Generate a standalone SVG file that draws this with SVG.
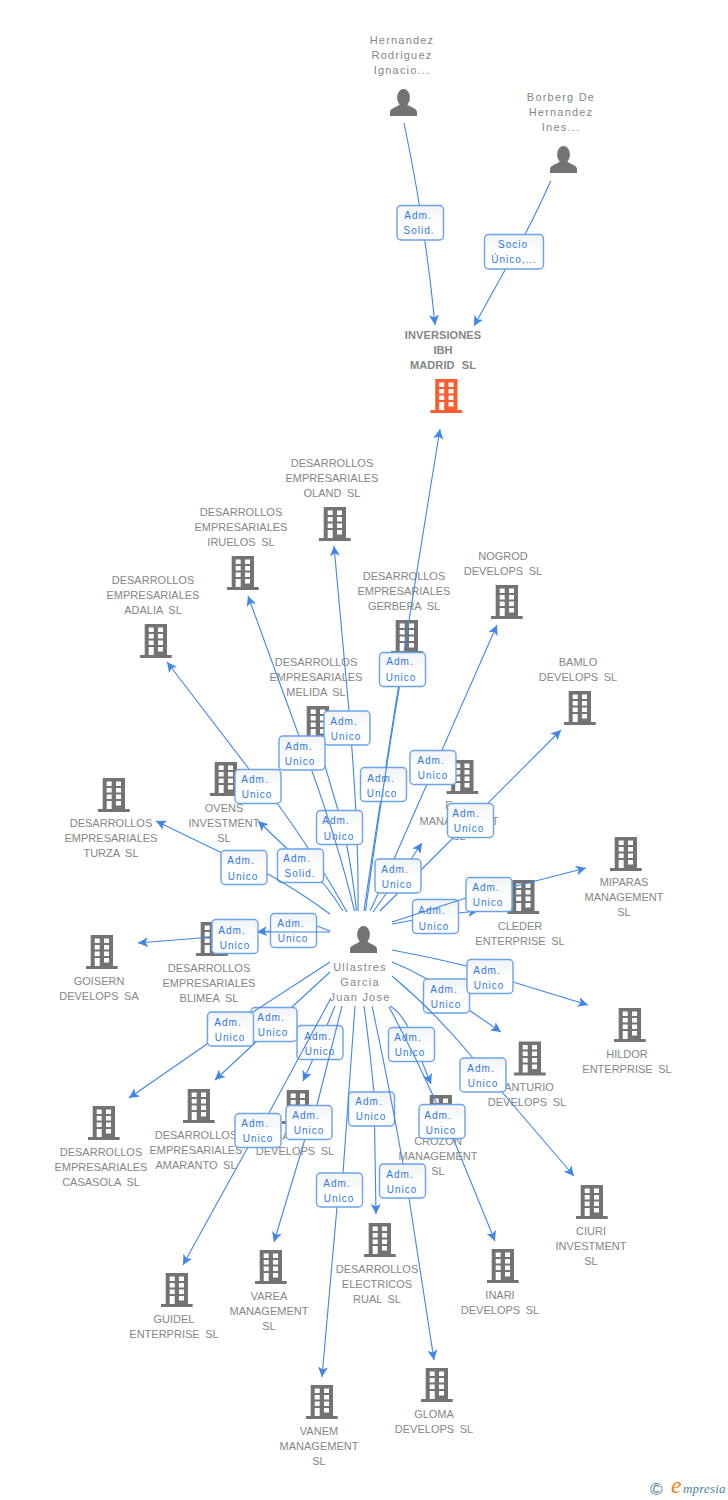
<svg xmlns="http://www.w3.org/2000/svg" width="728" height="1500" viewBox="0 0 728 1500">
<style>
text{font-family:"Liberation Sans",Arial,sans-serif}
.n{font-size:11px;fill:#868686;text-anchor:middle;letter-spacing:0;word-spacing:2.500px}
.m{letter-spacing:1.200px;word-spacing:0}
.b{font-weight:bold;letter-spacing:.1px;word-spacing:4px}
.l{font-size:10px;fill:#2f78e2;text-anchor:middle;letter-spacing:1px}
.e{fill:none;stroke:#3f86e8;stroke-width:1.100;marker-end:url(#a)}
.x{fill:url(#g);stroke:#6ba2ec;stroke-width:1.400}
.i{fill:#737373}
</style>
<defs>
<linearGradient id="g" x1="0" y1="0" x2="0" y2="1"><stop offset="0" stop-color="#f1f3f5"/><stop offset=".6" stop-color="#fff"/></linearGradient>
<marker id="a" markerUnits="userSpaceOnUse" markerWidth="12" markerHeight="12" refX="10" refY="5.500" orient="auto"><path d="M10 5.500L0 0.500L2.500 5.500L0 10.500Z" fill="#3f86e8"/></marker>
<path id="c" fill-rule="evenodd" d="M4.700 0H27V31H31.700V34H0V31H4.700ZM8.700 3.500V8H13.700V3.500ZM18 3.500V8H23V3.500ZM8.700 10V14.500H13.700V10ZM18 10V14.500H23V10ZM8.700 16.500V21H13.700V16.500ZM18 16.500V21H23V16.500ZM8.700 23V31H13.700V23ZM18 23V27.500H23V23Z"/>
<g id="p"><ellipse cx="13.500" cy="8.500" rx="6.400" ry="8.500"/><path d="M0 27V23C0 19 7 18.500 10 15H17C20 18.500 27 19 27 23V27Z"/></g>
</defs>
<rect width="728" height="1500" fill="#fff"/>

<g id="n-hernandez" class="i"><text class="n m" x="402" y="44">Hernandez</text><text class="n m" x="402" y="59">Rodriguez</text><text class="n m" x="402" y="74">Ignacio...</text><use href="#p" x="390" y="89"/></g>
<g id="n-borberg" class="i"><text class="n m" x="561" y="101">Borberg De</text><text class="n m" x="561" y="116">Hernandez</text><text class="n m" x="561" y="131">Ines...</text><use href="#p" x="550" y="146"/></g>
<g id="n-inversiones"><text class="n b" x="443" y="339">INVERSIONES</text><text class="n b" x="443" y="354">IBH</text><text class="n b" x="443" y="369">MADRID SL</text><use href="#c" x="430.500" y="379" fill="#fb5d32"/></g>
<g id="n-oland" class="i"><text class="n" x="332" y="467">DESARROLLOS</text><text class="n" x="332" y="482">EMPRESARIALES</text><text class="n" x="332" y="497">OLAND SL</text><use href="#c" x="319" y="507"/></g>
<g id="n-iruelos" class="i"><text class="n" x="241" y="516">DESARROLLOS</text><text class="n" x="241" y="531">EMPRESARIALES</text><text class="n" x="241" y="546">IRUELOS SL</text><use href="#c" x="227" y="556"/></g>
<g id="n-adalia" class="i"><text class="n" x="153" y="584">DESARROLLOS</text><text class="n" x="153" y="599">EMPRESARIALES</text><text class="n" x="153" y="614">ADALIA SL</text><use href="#c" x="140" y="624"/></g>
<g id="n-gerbera" class="i"><text class="n" x="404" y="580">DESARROLLOS</text><text class="n" x="404" y="595">EMPRESARIALES</text><text class="n" x="404" y="610">GERBERA SL</text><use href="#c" x="391" y="620"/></g>
<g id="n-nogrod" class="i"><text class="n" x="503" y="560">NOGROD</text><text class="n" x="503" y="575">DEVELOPS SL</text><use href="#c" x="491" y="585"/></g>
<g id="n-bamlo" class="i"><text class="n" x="578" y="666">BAMLO</text><text class="n" x="578" y="681">DEVELOPS SL</text><use href="#c" x="564" y="691"/></g>
<g id="n-melida" class="i"><text class="n" x="316" y="666">DESARROLLOS</text><text class="n" x="316" y="681">EMPRESARIALES</text><text class="n" x="316" y="696">MELIDA SL</text><use href="#c" x="302" y="706"/></g>
<g id="n-ovens" class="i"><text class="n" x="224" y="812">OVENS</text><text class="n" x="224" y="827">INVESTMENT</text><text class="n" x="224" y="842">SL</text><use href="#c" x="210" y="762"/></g>
<g id="n-turza" class="i"><text class="n" x="111" y="827">DESARROLLOS</text><text class="n" x="111" y="842">EMPRESARIALES</text><text class="n" x="111" y="857">TURZA SL</text><use href="#c" x="98" y="778"/></g>
<g id="n-management" class="i"><text class="n" x="449" y="809">E</text><text class="n" x="459" y="825">MANAGEMENT</text><text class="n" x="459" y="840">SL</text><use href="#c" x="446.500" y="760"/></g>
<g id="n-cleder" class="i"><text class="n" x="520" y="930">CLEDER</text><text class="n" x="520" y="945">ENTERPRISE SL</text><use href="#c" x="507.500" y="880"/></g>
<g id="n-miparas" class="i"><text class="n" x="624" y="886">MIPARAS</text><text class="n" x="624" y="901">MANAGEMENT</text><text class="n" x="624" y="916">SL</text><use href="#c" x="610" y="837"/></g>
<g id="n-hildor" class="i"><text class="n" x="627" y="1058">HILDOR</text><text class="n" x="627" y="1073">ENTERPRISE SL</text><use href="#c" x="614" y="1008"/></g>
<g id="n-anturio" class="i"><text class="n" x="529" y="1091">ANTURIO</text><text class="n" x="527" y="1106">DEVELOPS SL</text><use href="#c" x="514" y="1041.500"/></g>
<g id="n-ciuri" class="i"><text class="n" x="591" y="1235">CIURI</text><text class="n" x="591" y="1250">INVESTMENT</text><text class="n" x="591" y="1265">SL</text><use href="#c" x="576" y="1185"/></g>
<g id="n-inari" class="i"><text class="n" x="500" y="1299">INARI</text><text class="n" x="500" y="1314">DEVELOPS SL</text><use href="#c" x="487" y="1249"/></g>
<g id="n-crozon" class="i"><text class="n" x="438" y="1145">CROZON</text><text class="n" x="438" y="1160">MANAGEMENT</text><text class="n" x="438" y="1175">SL</text><use href="#c" x="425" y="1095"/></g>
<g id="n-gloma" class="i"><text class="n" x="434" y="1418">GLOMA</text><text class="n" x="434" y="1433">DEVELOPS SL</text><use href="#c" x="421" y="1368"/></g>
<g id="n-rual" class="i"><text class="n" x="377" y="1273">DESARROLLOS</text><text class="n" x="377" y="1288">ELECTRICOS</text><text class="n" x="377" y="1303">RUAL SL</text><use href="#c" x="364" y="1223"/></g>
<g id="n-vanem" class="i"><text class="n" x="319" y="1435">VANEM</text><text class="n" x="319" y="1450">MANAGEMENT</text><text class="n" x="319" y="1465">SL</text><use href="#c" x="306" y="1385"/></g>
<g id="n-varea" class="i"><text class="n" x="269" y="1300">VAREA</text><text class="n" x="269" y="1315">MANAGEMENT</text><text class="n" x="269" y="1330">SL</text><use href="#c" x="255" y="1250"/></g>
<g id="n-guidel" class="i"><text class="n" x="174" y="1323">GUIDEL</text><text class="n" x="174" y="1338">ENTERPRISE SL</text><use href="#c" x="161" y="1273"/></g>
<g id="n-develops" class="i"><text class="n" x="286" y="1140">A</text><text class="n" x="295" y="1155">DEVELOPS SL</text><use href="#c" x="282" y="1090"/></g>
<g id="n-amaranto" class="i"><text class="n" x="196" y="1139">DESARROLLOS</text><text class="n" x="196" y="1154">EMPRESARIALES</text><text class="n" x="196" y="1169">AMARANTO SL</text><use href="#c" x="183" y="1089"/></g>
<g id="n-casasola" class="i"><text class="n" x="101" y="1156">DESARROLLOS</text><text class="n" x="101" y="1171">EMPRESARIALES</text><text class="n" x="101" y="1186">CASASOLA SL</text><use href="#c" x="88" y="1106"/></g>
<g id="n-goisern" class="i"><text class="n" x="99" y="985">GOISERN</text><text class="n" x="99" y="1000">DEVELOPS SA</text><use href="#c" x="86" y="935"/></g>
<g id="n-blimea" class="i"><text class="n" x="209" y="972">DESARROLLOS</text><text class="n" x="209" y="987">EMPRESARIALES</text><text class="n" x="209" y="1002">BLIMEA SL</text><use href="#c" x="196" y="922"/></g>
<g id="n-ullastres" class="i"><use href="#p" x="350" y="926"/><text class="n m" x="360" y="971">Ullastres</text><text class="n m" x="360" y="986">Garcia</text><text class="n m" x="360" y="1001">Juan Jose</text></g>

<g id="connectors">
<g><path class="e" d="M404 123Q425 222 435 325"/><rect class="x" x="397" y="205.500" width="46.500" height="34.500" rx="4"/><text class="l" x="418" y="219">Adm.</text><text class="l" x="419" y="234">Solid.</text></g>
<g><path class="e" d="M550.700 181Q530 228 505 270L474 326"/><rect class="x" x="484.500" y="234.500" width="59" height="34.500" rx="4"/><text class="l" x="513" y="248">Socio</text><text class="l" x="514" y="263">Único,...</text></g>

<g><path class="e" d="M364 911Q386 760 440 429"/><rect class="x" x="360.500" y="767.500" width="46" height="34" rx="4"/><text class="l" x="381" y="782">Adm.</text><text class="l" x="382" y="797">Unico</text></g>
<g><path class="e" d="M365.500 911Q385 770 404 660"/><rect class="x" x="379.500" y="652.500" width="46" height="34" rx="4"/><text class="l" x="400" y="665">Adm.</text><text class="l" x="401" y="681">Unico</text></g>
<g><path class="e" d="M358 911Q359 830 349 711L334 546"/><rect class="x" x="324" y="711" width="46" height="34" rx="4"/><text class="l" x="344" y="725">Adm.</text><text class="l" x="346" y="740">Unico</text></g>
<g><path class="e" d="M356.500 911Q350 850 338 810L318 742"/><rect class="x" x="316.500" y="810.500" width="46" height="34" rx="4"/><text class="l" x="336" y="824">Adm.</text><text class="l" x="339" y="840">Unico</text></g>
<g><path class="e" d="M354.500 911Q335 830 299 736L248 596"/><rect class="x" x="279" y="736" width="46" height="34" rx="4"/><text class="l" x="299" y="750">Adm.</text><text class="l" x="300" y="765">Unico</text></g>
<g><path class="e" d="M347 912Q315 855 277 803L249 769L167 662"/><rect class="x" x="235" y="769.500" width="46" height="34" rx="4"/><text class="l" x="255" y="783">Adm.</text><text class="l" x="257" y="798">Unico</text></g>
<g><path class="e" d="M343 911Q333 895 323 883L258 821"/><rect class="x" x="277.500" y="849" width="46" height="33.500" rx="4"/><text class="l" x="297" y="862">Adm.</text><text class="l" x="300" y="877">Solid.</text></g>
<g><path class="e" d="M330 914Q300 892 268 874L222 853L156 821"/><rect class="x" x="221" y="850.500" width="46" height="34" rx="4"/><text class="l" x="241" y="864">Adm.</text><text class="l" x="243" y="880">Unico</text></g>

<g><path class="e" d="M370 911Q380 890 394 859L497 625"/><rect class="x" x="410" y="750.500" width="46" height="34" rx="4"/><text class="l" x="431" y="764">Adm.</text><text class="l" x="433" y="779">Unico</text></g>
<g><path class="e" d="M380 911L421 870L561 730"/><rect class="x" x="447.500" y="803.500" width="46" height="34" rx="4"/><text class="l" x="466" y="817">Adm.</text><text class="l" x="469" y="832">Unico</text></g>
<g><path class="e" d="M373 912L411 859L422 843"/><rect class="x" x="375" y="859" width="46" height="34" rx="4"/><text class="l" x="395" y="873">Adm.</text><text class="l" x="397" y="888">Unico</text></g>
<g><path class="e" d="M392 924Q430 917 458 913L478 911"/><rect class="x" x="412.500" y="899.500" width="46" height="34" rx="4"/><text class="l" x="432" y="914">Adm.</text><text class="l" x="434" y="930">Unico</text></g>
<g><path class="e" d="M392 922L466 898L512 887L586 868"/><rect class="x" x="466" y="877.500" width="46" height="34" rx="4"/><text class="l" x="486" y="891">Adm.</text><text class="l" x="488" y="906">Unico</text></g>
<g><path class="e" d="M392 962Q410 969 427 979L469 1010L501 1032"/><rect class="x" x="423.500" y="979" width="46" height="34" rx="4"/><text class="l" x="444" y="993">Adm.</text><text class="l" x="446" y="1008">Unico</text></g>
<g><path class="e" d="M392 950Q430 957 467 966L513 982L588 1005"/><rect class="x" x="467" y="959.500" width="46" height="34" rx="4"/><text class="l" x="487" y="974">Adm.</text><text class="l" x="489" y="989">Unico</text></g>
<g><path class="e" d="M392 976Q435 1012 473 1058L502 1092L574 1176"/><rect class="x" x="460" y="1058" width="46" height="34" rx="4"/><text class="l" x="481" y="1072">Adm.</text><text class="l" x="483" y="1087">Unico</text></g>
<g><path class="e" d="M390 1006Q400 1012 408 1027L431 1084"/><rect class="x" x="388.500" y="1027.500" width="46" height="34" rx="4"/><text class="l" x="408" y="1041">Adm.</text><text class="l" x="410" y="1056">Unico</text></g>
<g><path class="e" d="M389 1007Q415 1055 437 1104L453 1138L495 1241"/><rect class="x" x="419" y="1104.500" width="46" height="34" rx="4"/><text class="l" x="438" y="1119">Adm.</text><text class="l" x="441" y="1134">Unico</text></g>
<g><path class="e" d="M364 1006Q370 1050 374 1092L376 1214"/><rect class="x" x="348.500" y="1092" width="46" height="34" rx="4"/><text class="l" x="369" y="1105">Adm.</text><text class="l" x="371" y="1120">Unico</text></g>
<g><path class="e" d="M372 1006Q390 1090 403 1164L409 1198L434 1360"/><rect class="x" x="379.500" y="1164" width="46" height="34" rx="4"/><text class="l" x="400" y="1178">Adm.</text><text class="l" x="402" y="1193">Unico</text></g>
<g><path class="e" d="M355 1006L343 1173L337 1207L322 1377"/><rect class="x" x="316.500" y="1173" width="46" height="34" rx="4"/><text class="l" x="337" y="1187">Adm.</text><text class="l" x="339" y="1202">Unico</text></g>
<g><path class="e" d="M335 1006L313 1059L303 1081"/><rect class="x" x="297" y="1025.500" width="46" height="34" rx="4"/><text class="l" x="318" y="1040">Adm.</text><text class="l" x="320" y="1055">Unico</text></g>
<g><path class="e" d="M342 1006L317 1105L305 1139L274 1242"/><rect class="x" x="286" y="1105.500" width="46" height="34" rx="4"/><text class="l" x="306" y="1119">Adm.</text><text class="l" x="309" y="1134">Unico</text></g>
<g><path class="e" d="M331 998L269 1113L248 1147L183 1265"/><rect class="x" x="235" y="1113.500" width="46" height="34" rx="4"/><text class="l" x="255" y="1127">Adm.</text><text class="l" x="258" y="1142">Unico</text></g>
<g><path class="e" d="M330 972L292 1007L256 1042L215 1080"/><rect class="x" x="251" y="1007.500" width="46" height="34" rx="4"/><text class="l" x="271" y="1021">Adm.</text><text class="l" x="273" y="1036">Unico</text></g>
<g><path class="e" d="M330 962L253 1012L207 1044L129 1098"/><rect class="x" x="207.500" y="1012" width="46" height="34" rx="4"/><text class="l" x="228" y="1026">Adm.</text><text class="l" x="230" y="1041">Unico</text></g>
<g><path class="e" d="M330 931L317 926L270 931L257 932"/><rect class="x" x="270.500" y="913.500" width="46" height="34" rx="4"/><text class="l" x="291" y="927">Adm.</text><text class="l" x="293" y="942">Unico</text></g>
<g><path class="e" d="M330 932L258 932L212 937L138 943"/><rect class="x" x="212" y="919.500" width="46" height="34" rx="4"/><text class="l" x="232" y="934">Adm.</text><text class="l" x="235" y="949">Unico</text></g>
</g>

<g id="logo"><text x="650" y="1495" style="font-size:17px;fill:#4a8098">©</text><text x="671" y="1493" style="font-family:'Liberation Serif',serif;font-style:italic;font-size:24px;fill:#f08020">e</text><text x="683" y="1493" style="font-family:'Liberation Serif',serif;font-style:italic;font-size:13px;letter-spacing:.2px;fill:#4a8098">mpresia</text></g>
</svg>
